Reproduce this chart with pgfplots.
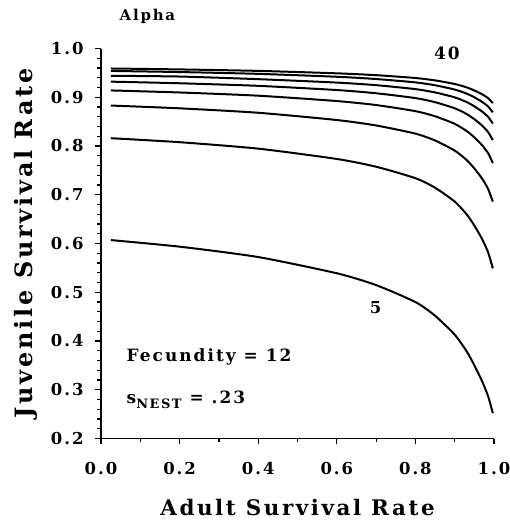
\documentclass[border=0pt]{standalone}
\usepackage{pgfplots}
\pgfplotsset{compat=1.18}
\usepackage{fontspec}
\setmainfont{DejaVu Serif}[LetterSpace=12]

\pgfplotstableread{
x y
0.025 0.607
0.2 0.5935
0.4 0.5722
0.6 0.5389
0.7 0.5147
0.8 0.4799
0.85 0.4519
0.9 0.4130
0.93 0.3793
0.95 0.3502
0.97 0.3169
0.985 0.2867
0.997 0.252
}\aFive
\pgfplotstableread{
x y
0.025 0.816
0.2 0.8078
0.4 0.7946
0.6 0.7734
0.7 0.7575
0.8 0.7340
0.85 0.7144
0.9 0.6860
0.93 0.6602
0.95 0.6368
0.97 0.6087
0.985 0.5819
0.997 0.549
}\aTen
\pgfplotstableread{
x y
0.025 0.883
0.2 0.8773
0.4 0.8682
0.6 0.8533
0.7 0.8421
0.8 0.8254
0.85 0.8113
0.9 0.7906
0.93 0.7715
0.95 0.7540
0.97 0.7327
0.985 0.7119
0.997 0.686
}\aFifteen
\pgfplotstableread{
x y
0.025 0.914
0.2 0.9098
0.4 0.9032
0.6 0.8922
0.7 0.8840
0.8 0.8715
0.85 0.8610
0.9 0.8455
0.93 0.8310
0.95 0.8177
0.97 0.8013
0.985 0.7852
0.997 0.765
}\aTwenty
\pgfplotstableread{
x y
0.025 0.932
0.2 0.9287
0.4 0.9234
0.6 0.9148
0.7 0.9082
0.8 0.8983
0.85 0.8899
0.9 0.8774
0.93 0.8658
0.95 0.8550
0.97 0.8417
0.985 0.8286
0.997 0.812
}\aTwentyFive
\pgfplotstableread{
x y
0.025 0.944
0.2 0.9425
0.4 0.9371
0.6 0.9301
0.7 0.9248
0.8 0.9167
0.85 0.9099
0.9 0.8998
0.93 0.8903
0.95 0.8814
0.97 0.8705
0.985 0.8597
0.997 0.846
}\aThirty
\pgfplotstableread{
x y
0.025 0.954
0.2 0.9517
0.4 0.9480
0.6 0.9420
0.7 0.9374
0.8 0.9305
0.85 0.9246
0.9 0.9158
0.93 0.9076
0.95 0.8999
0.97 0.8904
0.985 0.8810
0.997 0.869
}\aThirtyFive
\pgfplotstableread{
x y
0.025 0.959
0.2 0.9571
0.4 0.9541
0.6 0.9491
0.7 0.9453
0.8 0.9395
0.85 0.9346
0.9 0.9272
0.93 0.9204
0.95 0.9139
0.97 0.9060
0.985 0.8981
0.997 0.888
}\aForty

\tikzset{curve/.style={black, solid, line width=2bp, smooth, tension=0.4}}

\begin{document}
\begin{tikzpicture}
\useasboundingbox (0,0) rectangle (510bp,522bp);
\begin{axis}[
  at={(101bp,83.5bp)}, anchor=south west,
  width=393bp, height=390bp, scale only axis,
  xmin=0, xmax=1, ymin=0.2, ymax=1.0,
  axis lines=left,
  axis line style={-, line width=1.5bp},
  tick align=outside,
  major tick length=6bp, minor tick length=3.5bp,
  every tick/.style={black, line width=1.2bp},
  xtick={0,0.2,0.4,0.6,0.8,1.0}, minor x tick num=1,
  ytick={0.2,0.3,0.4,0.5,0.6,0.7,0.8,0.9,1.0}, minor y tick num=4,
  /pgf/number format/assume math mode=true,
  ticklabel style={font=\fontsize{16.5}{16.5}\selectfont\bfseries},
  xticklabel style={/pgf/number format/.cd, fixed, fixed zerofill, precision=1, /tikz/.cd, yshift=-14bp},
  yticklabel style={/pgf/number format/.cd, fixed, fixed zerofill, precision=1, /tikz/.cd, xshift=-8bp},
  xlabel={Adult Survival Rate},
  ylabel={Juvenile Survival Rate},
  xlabel style={font=\fontsize{21.5}{21.5}\selectfont\bfseries, at={(axis description cs:0.5,-0.178)}, anchor=center},
  ylabel style={font=\fontsize{24}{24}\selectfont\bfseries, at={(axis description cs:-0.19,0.5)}, anchor=center},
  clip=false,
]
\addplot[curve] table {\aFive};
\addplot[curve] table {\aTen};
\addplot[curve] table {\aFifteen};
\addplot[curve] table {\aTwenty};
\addplot[curve] table {\aTwentyFive};
\addplot[curve] table {\aThirty};
\addplot[curve] table {\aThirtyFive};
\addplot[curve] table {\aForty};

\node[font=\fontsize{15}{15}\selectfont\bfseries, anchor=center] at (axis cs:0.118,1.065) {Alpha};
\node[font=\fontsize{17}{17}\selectfont\bfseries, anchor=center] at (axis cs:0.880,0.990) {40};
\node[font=\fontsize{16.5}{16.5}\selectfont\bfseries, anchor=center] at (axis cs:0.699,0.469) {5};
\node[font=\fontsize{17}{17}\selectfont\bfseries, anchor=base west, inner sep=0pt] at (axis cs:0.065,0.358) {Fecundity = 12};
\node[font=\fontsize{17}{17}\selectfont\bfseries, anchor=base west, inner sep=0pt] at (axis cs:0.065,0.271) {s\raisebox{-0.3em}{\fontsize{13}{13}\selectfont NEST} = .23};
\end{axis}
\end{tikzpicture}
\end{document}
